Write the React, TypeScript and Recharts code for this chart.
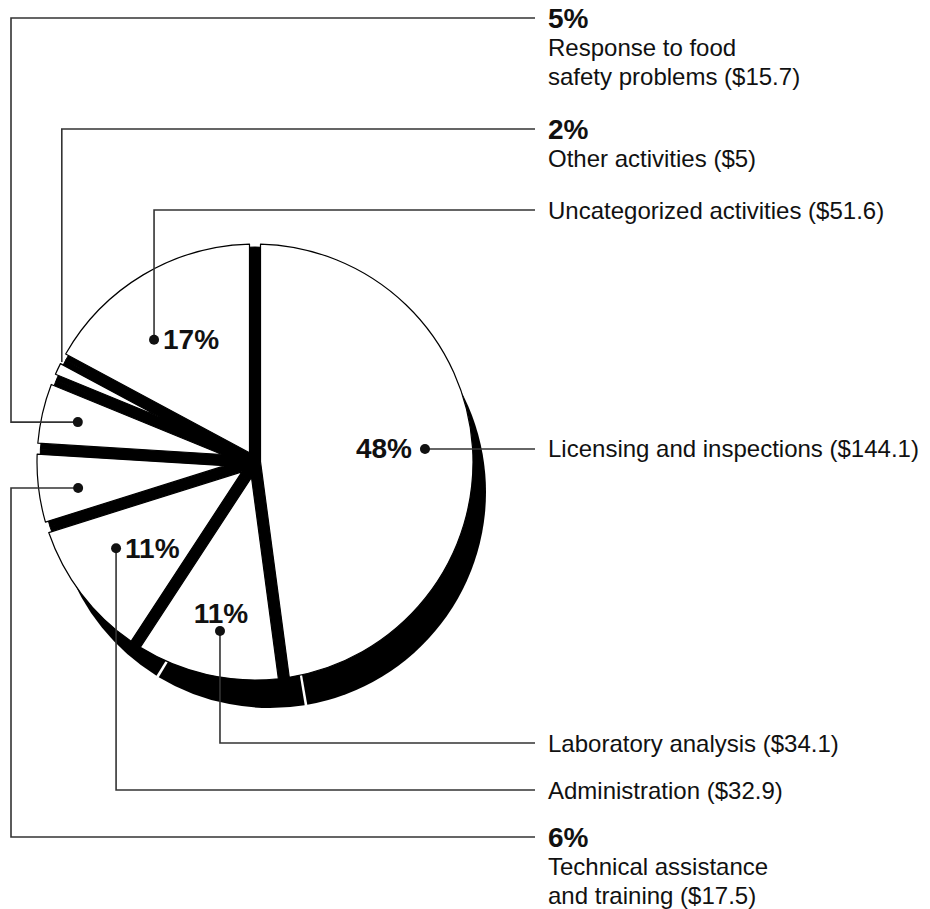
import React from 'react';
import { PieChart, Pie } from 'recharts';

// spending by activity, millions of dollars (clockwise from 12 o'clock)
const categories = [
  'Licensing and inspections',
  'Laboratory analysis',
  'Administration',
  'Technical assistance\nand training',
  'Response to food\nsafety problems',
  'Other activities',
  'Uncategorized activities',
];
const spending = [144.1, 34.1, 32.9, 17.5, 15.7, 5, 51.6];

const data = categories.map((name, i) => ({ name, value: spending[i] }));

const CX = 255;
const CY = 462;
const R = 218;
const GAP = 11; // black band between slices, px
const SHADOW = { x: 15, y: 30, shrink: 2 };
const LINE_END = 535;
const LEFT_X = 11;
const TEXT_X = 548;
const FONT = '"Liberation Sans", Arial, Helvetica, sans-serif';

// where each callout dot sits and how its leader line runs
const labelLayout = [
  { dotR: 0.782, shift: 0.6, route: 'right', pct: 'left' },
  { dotR: 0.792, shift: 1.1, route: 'vert', toY: 743, pct: 'above' },
  { dotR: 0.75, shift: -5.3, route: 'vert', toY: 790, pct: 'right' },
  { dotR: 0.82, shift: 1.4, route: 'around', toY: 837, pct: 'block' },
  { dotR: 0.833, shift: 0.2, route: 'around', toY: 18, pct: 'block' },
  { dotR: 0.998, shift: -2.1, route: 'vert', toY: 129, pct: 'block', noDot: true },
  { dotR: 0.727, shift: 8.7, route: 'vert', toY: 210, pct: 'right' },
];

const RAD = Math.PI / 180;

// white slice whose straight edges are pulled in by GAP/2, leaving even black bands
const sliceShape = (props: any) => {
  const { cx, cy, outerRadius: r, startAngle, endAngle } = props;
  const h = GAP / 2;
  const s = startAngle * RAD;
  const e = endAngle * RAD;
  const sign = e < s ? -1 : 1;
  const half = Math.abs(e - s) / 2;
  const mid = (s + e) / 2;
  const apex = h / Math.sin(half);
  const t = Math.sqrt(r * r - h * h);
  const toScreen = (x: number, y: number) => [cx + x, cy - y];
  const p = toScreen(apex * Math.cos(mid), apex * Math.sin(mid));
  const a1 = toScreen(
    sign * -Math.sin(s) * h + t * Math.cos(s),
    sign * Math.cos(s) * h + t * Math.sin(s),
  );
  const a2 = toScreen(
    -sign * -Math.sin(e) * h + t * Math.cos(e),
    -sign * Math.cos(e) * h + t * Math.sin(e),
  );
  const span = Math.abs(e - s) - 2 * Math.asin(h / r);
  const large = span > Math.PI ? 1 : 0;
  const sweep = e < s ? 1 : 0;
  const d = `M${p[0]},${p[1]}L${a1[0]},${a1[1]}A${r},${r} 0 ${large} ${sweep} ${a2[0]},${a2[1]}Z`;
  return <path d={d} fill="#fff" stroke="#000" strokeWidth={1.2} strokeLinejoin="round" />;
};

const renderLabel = (props: any) => {
  const { cx, cy, midAngle, outerRadius, percent, index, value } = props;
  const lay = labelLayout[index];
  const a = (midAngle + lay.shift) * RAD;
  const dx = cx + outerRadius * lay.dotR * Math.cos(-a);
  const dy = cy + outerRadius * lay.dotR * Math.sin(-a);
  const pctText = `${Math.round(percent * 100)}%`;

  let path = '';
  let textY = dy;
  if (lay.route === 'right') {
    path = `M${dx},${dy}H${LINE_END}`;
  } else if (lay.route === 'vert') {
    path = `M${dx},${dy}V${lay.toY}H${LINE_END}`;
    textY = lay.toY as number;
  } else {
    path = `M${dx},${dy}H${LEFT_X}V${lay.toY}H${LINE_END}`;
    textY = lay.toY as number;
  }

  const lines = categories[index].split('\n');
  lines[lines.length - 1] += ` ($${value})`;
  const rows: { t: string; bold: boolean }[] = [];
  if (lay.pct === 'block') rows.push({ t: pctText, bold: true });
  lines.forEach((t) => rows.push({ t, bold: false }));

  let pctNode = null;
  if (lay.pct === 'left') {
    pctNode = (
      <text x={dx - 13} y={dy} textAnchor="end" dominantBaseline="central" fontSize={28} fontWeight="bold" fill="#111">
        {pctText}
      </text>
    );
  } else if (lay.pct === 'right') {
    pctNode = (
      <text x={dx + 9} y={dy} textAnchor="start" dominantBaseline="central" fontSize={28} fontWeight="bold" fill="#111">
        {pctText}
      </text>
    );
  } else if (lay.pct === 'above') {
    pctNode = (
      <text x={dx + 1} y={dy - 18} textAnchor="middle" dominantBaseline="central" fontSize={28} fontWeight="bold" fill="#111">
        {pctText}
      </text>
    );
  }

  return (
    <g key={`lbl-${index}`} fontFamily={FONT}>
      <path d={path} fill="none" stroke="#333" strokeWidth={1.6} />
      {!lay.noDot && <circle cx={dx} cy={dy} r={5} fill="#111" />}
      {pctNode}
      {rows.map((row, i) => (
        <text
          key={i}
          x={TEXT_X}
          y={textY + i * 29}
          dominantBaseline="central"
          fontSize={row.bold ? 28 : 24}
          fontWeight={row.bold ? 'bold' : 'normal'}
          fill="#111"
        >
          {row.t}
        </text>
      ))}
    </g>
  );
};

export default function App() {
  return (
    <div style={{ position: 'absolute', left: 0, top: 0, background: '#fff' }}>
      <PieChart width={930} height={909} margin={{ top: 0, right: 0, bottom: 0, left: 0 }}>
        {/* drop shadow */}
        <Pie
          data={data}
          dataKey="value"
          cx={CX + SHADOW.x}
          cy={CY + SHADOW.y}
          outerRadius={R - SHADOW.shrink}
          startAngle={90}
          endAngle={-270}
          paddingAngle={0.7}
          fill="#000"
          stroke="none"
          isAnimationActive={false}
        />
        {/* black base that shows through between slices */}
        <Pie
          data={data}
          dataKey="value"
          cx={CX}
          cy={CY}
          outerRadius={R - 3}
          startAngle={90}
          endAngle={-270}
          fill="#000"
          stroke="#000"
          isAnimationActive={false}
        />
        <Pie
          data={data}
          dataKey="value"
          cx={CX}
          cy={CY}
          outerRadius={R}
          startAngle={90}
          endAngle={-270}
          shape={sliceShape}
          label={renderLabel}
          labelLine={false}
          isAnimationActive={false}
        />
      </PieChart>
    </div>
  );
}
